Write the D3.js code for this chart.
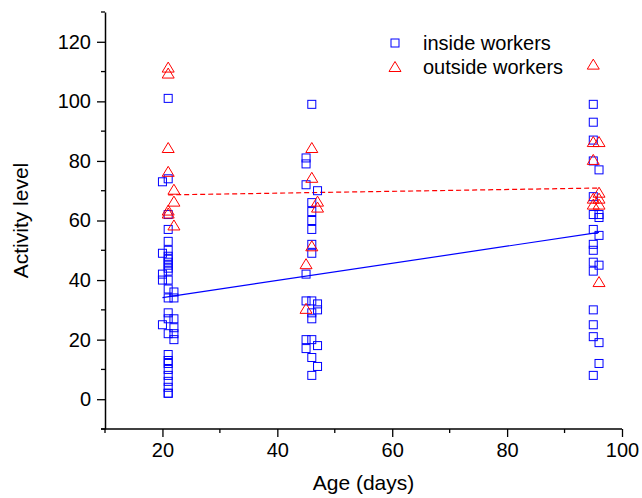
<!DOCTYPE html>
<html>
<head>
<meta charset="utf-8">
<script src="https://cdn.jsdelivr.net/npm/d3@7"></script>
<style>
html, body { margin: 0; padding: 0; background: #fff; }
svg { display: block; font-family: "Liberation Sans", Arial, sans-serif; }
</style>
</head>
<body>
<svg id="chart" width="642" height="498"></svg>
<script>
// ---- data ----
const insideAge = [
  20,20,20,20,20,
  21,21,21,21,21,21,21,21,21,21,21,21,21,21,21,21,21,21,21,21,21,21,21,21,21,21,21,
  22,22,22,22,22,22,
  45,45,45,45,45,45,45,
  46,46,46,46,46,46,46,46,46,46,46,46,46,
  47,47,47,47,47,
  95,95,95,95,95,95,95,95,95,95,95,95,95,95,95,
  96,96,96,96,96,96,96
];
const insideActivity = [
  73,49,42,40,25,
  101,74,62,57,53,50,48,47,46,45,44,43,40,37,34,29,27,22,15,13,12,10,8,6,4,2,2,
  36,34,27,24,22,20,
  81,79,72,42,33,20,17,
  99,66,63,60,57,52,49,33,29,27,20,14,8,
  70,32,30,18,11,
  99,93,87,80,68,62,57,52,50,46,43,30,25,21,8,
  77,62,61,55,45,19,12
];
const outsideAge = [
  21,21,21,21,21,21,
  22,22,22,
  45,45,
  46,46,46,
  47,47,
  95,95,95,95,95,
  96,96,96,96,96
];
const outsideActivity = [
  111,109,84,76,63,62,
  70,66,58,
  45,30,
  84,74,51,
  66,64,
  112,86,80,67,65,
  86,69,67,65,39
];
// regression line end points
const insideFitAge = [20, 96];
const insideFitActivity = [34.1, 56.0];
const outsideFitAge = [21, 96];
const outsideFitActivity = [68.6, 70.9];

const xTicks = [20, 40, 60, 80, 100];
const yTicks = [0, 20, 40, 60, 80, 100, 120];
const xDomain = [10, 100];
const yDomain = [-10, 130];
const seriesNames = ["inside workers", "outside workers"];

// ---- layout ----
(function () {
const svg = d3.select("#chart");
const mLeft = 105, mRight = 622, mTop = 12, mBottom = 429;
const x = d3.scaleLinear().domain(xDomain).range([mLeft, mRight]);
const y = d3.scaleLinear().domain(yDomain).range([mBottom, mTop]);
const blue = "#0000ff", red = "#ff0000";

// minor ticks
const xMinor = d3.range(xDomain[0], xDomain[1] + 0.1, 10).filter(v => !xTicks.includes(v));
const yMinor = d3.range(yDomain[0], yDomain[1] + 0.1, 10).filter(v => !yTicks.includes(v));

// axes
const xAxis = d3.axisBottom(x).tickValues(xTicks).tickSize(8).tickSizeOuter(0).tickPadding(6).tickFormat(d3.format("d"));
const yAxis = d3.axisLeft(y).tickValues(yTicks).tickSize(8).tickSizeOuter(0).tickPadding(6).tickFormat(d3.format("d"));

const gx = svg.append("g").attr("transform", `translate(0,${mBottom})`).call(xAxis);
const gy = svg.append("g").attr("transform", `translate(${mLeft},0)`).call(yAxis);
[gx, gy].forEach(g => {
  g.select(".domain").attr("stroke", "#000").attr("stroke-width", 1.5);
  g.selectAll(".tick line").attr("stroke", "#000").attr("stroke-width", 1.3);
  g.selectAll(".tick text").attr("fill", "#000").attr("font-size", 20)
    .attr("font-family", "'Liberation Sans', Arial, sans-serif");
});
gx.select(".domain").attr("d", `M${mLeft - 4},0H${mRight}`);

svg.append("g").selectAll("line").data(xMinor).join("line")
  .attr("x1", d => x(d)).attr("x2", d => x(d))
  .attr("y1", mBottom).attr("y2", mBottom + 4)
  .attr("stroke", "#000").attr("stroke-width", 1.3);
svg.append("g").selectAll("line").data(yMinor).join("line")
  .attr("x1", mLeft - 4).attr("x2", mLeft)
  .attr("y1", d => y(d)).attr("y2", d => y(d))
  .attr("stroke", "#000").attr("stroke-width", 1.3);

// axis titles
svg.append("text").attr("x", (mLeft + mRight) / 2).attr("y", 490)
  .attr("text-anchor", "middle").attr("font-size", 21).attr("fill", "#000")
  .text("Age (days)");
svg.append("text").attr("transform", `translate(28,${(mTop + mBottom) / 2}) rotate(-90)`)
  .attr("text-anchor", "middle").attr("font-size", 21).attr("fill", "#000")
  .text("Activity level");

// regression lines
const line = d3.line().x(d => x(d[0])).y(d => y(d[1]));
svg.append("path")
  .attr("d", line(insideFitAge.map((a, i) => [a, insideFitActivity[i]])))
  .attr("fill", "none").attr("stroke", blue).attr("stroke-width", 1.2);
svg.append("path")
  .attr("d", line(outsideFitAge.map((a, i) => [a, outsideFitActivity[i]])))
  .attr("fill", "none").attr("stroke", red).attr("stroke-width", 1.2)
  .attr("stroke-dasharray", "5,3");

// markers
const sq = 8;
const triPath = "M0,-6.5L6,3.5L-6,3.5Z";
svg.append("g").selectAll("rect").data(insideAge.map((a, i) => [a, insideActivity[i]])).join("rect")
  .attr("x", d => x(d[0]) - sq / 2).attr("y", d => y(d[1]) - sq / 2)
  .attr("width", sq).attr("height", sq)
  .attr("fill", "none").attr("stroke", blue).attr("stroke-width", 1);
svg.append("g").selectAll("path").data(outsideAge.map((a, i) => [a, outsideActivity[i]])).join("path")
  .attr("transform", d => `translate(${x(d[0])},${y(d[1])})`)
  .attr("d", triPath)
  .attr("fill", "none").attr("stroke", red).attr("stroke-width", 1);

// legend
const lg = svg.append("g");
lg.append("rect").attr("x", 395 - 4).attr("y", 43 - 4).attr("width", 8).attr("height", 8)
  .attr("fill", "none").attr("stroke", blue).attr("stroke-width", 1);
lg.append("text").attr("x", 423).attr("y", 50).attr("font-size", 20).attr("fill", "#000").text(seriesNames[0]);
lg.append("path").attr("transform", "translate(395,68)").attr("d", triPath)
  .attr("fill", "none").attr("stroke", red).attr("stroke-width", 1);
lg.append("text").attr("x", 423).attr("y", 74).attr("font-size", 20).attr("fill", "#000").text(seriesNames[1]);
})();
</script>
</body>
</html>
